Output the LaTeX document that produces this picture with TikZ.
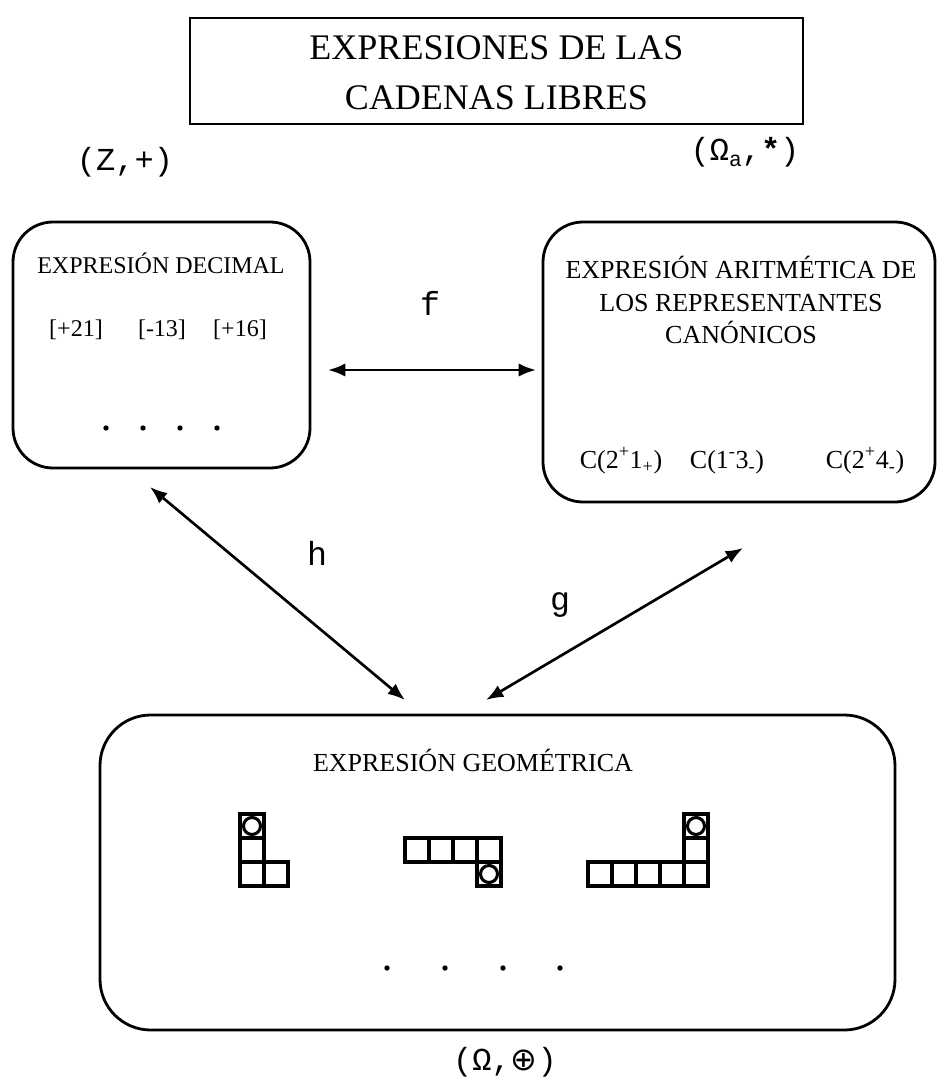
\documentclass[tikz,border=0pt]{standalone}
\usepackage{fontspec}
\setmainfont{Liberation Serif}
\setmonofont{Liberation Mono}
\newfontfamily\djsans{DejaVu Sans}
\usetikzlibrary{arrows.meta}
\begin{document}
\begin{tikzpicture}[x=0.75pt,y=-0.75pt,
  every node/.style={inner sep=0pt, outer sep=0pt},
  rbox/.style={draw, line width=2.1pt, rounded corners=30pt},
  tbox/.style={draw, line width=1.3pt},
  ttl/.style={font=\fontsize{27pt}{32pt}\selectfont, anchor=base},
  head/.style={font=\fontsize{19.5pt}{23pt}\selectfont, anchor=base},
  dhead/.style={font=\fontsize{18pt}{22pt}\selectfont, anchor=base},
  mono/.style={font=\ttfamily\fontsize{24pt}{28pt}\selectfont},
  lbl/.style={font=\ttfamily\fontsize{25pt}{28pt}\selectfont},
  arr/.style={{Latex[length=13pt,width=10pt]}-{Latex[length=13pt,width=10pt]}, line width=2pt},
  cellsq/.style={draw, line width=2.3pt},
  circ/.style={line width=2.3pt}
]
\useasboundingbox (0,0) rectangle (937,1087);
\fill[white] (0,0) rectangle (937,1087);

% title
\node[tbox, minimum width=459.75pt, minimum height=79.5pt] (title) at (496.5,71) {};
\node[ttl] (t1) at (496.5,60) {EXPRESIONES DE LAS};
\node[ttl] (t2) at (496.5,110) {CADENAS LIBRES};

\node[mono] (zplus) at (125,162) {(Z,+)};
\node[mono] (omegaa) at (745,152) {(Ω\raisebox{-0.35ex}{\fontsize{16pt}{18pt}\selectfont a},\textbf{*})};

% left box
\node[rbox, minimum width=222.75pt, minimum height=184.5pt] (dec) at (161.5,345) {};
\node[dhead] (dech) at (161,273) {EXPRESIÓN DECIMAL};
\node[dhead] (n1) at (76,336) {[+21]};
\node[dhead] (n2) at (162,336) {[-13]};
\node[dhead] (n3) at (240,336) {[+16]};
\foreach \x in {106,143,180,217} \fill (\x,428) circle (2.7);

% right box
\node[rbox, minimum width=294pt, minimum height=210pt] (ari) at (739,362) {};
\node[head] (a1) at (741,279) {EXPRESIÓN ARITMÉTICA DE};
\node[head] (a2) at (741,311) {LOS REPRESENTANTES};
\node[head] (a3) at (741,343) {CANÓNICOS};
\node[head] (c1) at (621,468) {C(2\textsuperscript{+}1\textsubscript{+})};
\node[head] (c2) at (727,468) {C(1\textsuperscript{-}3\textsubscript{-})};
\node[head] (c3) at (865,468) {C(2\textsuperscript{+}4\textsubscript{-})};

% bottom box
\node[rbox, minimum width=596.25pt, minimum height=236.25pt, rounded corners=38pt] (geo) at (497.5,872.5) {};
\node[head] (geoh) at (473,771) {EXPRESIÓN GEOMÉTRICA};

% shape 1
\foreach \p in {(240,814),(240,838),(240,862),(264,862)} \draw[cellsq] \p rectangle ++(24,24);
\draw[circ] (252,826) circle (8.5);
% shape 2
\foreach \p in {(405,838),(429,838),(453,838),(477,838),(477,862)} \draw[cellsq] \p rectangle ++(24,24);
\draw[circ] (489,874) circle (8.5);
% shape 3
\foreach \p in {(588,862),(612,862),(636,862),(660,862),(684,862),(684,838),(684,814)} \draw[cellsq] \p rectangle ++(24,24);
\draw[circ] (696,826) circle (8.5);

\foreach \x in {387,445,503,560} \fill (\x,968) circle (2.7);

\node[mono] (omplus) at (505,1062) {(Ω,{\djsans ⊕})};

% connectors
\coordinate (fL) at (328,370);
\coordinate (fR) at (536,370);
\draw[arr] (fL) -- (fR);
\node[lbl] (f) at (430,303) {f};

\coordinate (hA) at (150,487);
\coordinate (hB) at (405,700);
\draw[arr] (hA) -- (hB);
\node[lbl] (h) at (317,553) {h};

\coordinate (gA) at (743,548);
\coordinate (gB) at (486,700);
\draw[arr] (gA) -- (gB);
\node[lbl] (g) at (560,605) {g};
\end{tikzpicture}
\end{document}
